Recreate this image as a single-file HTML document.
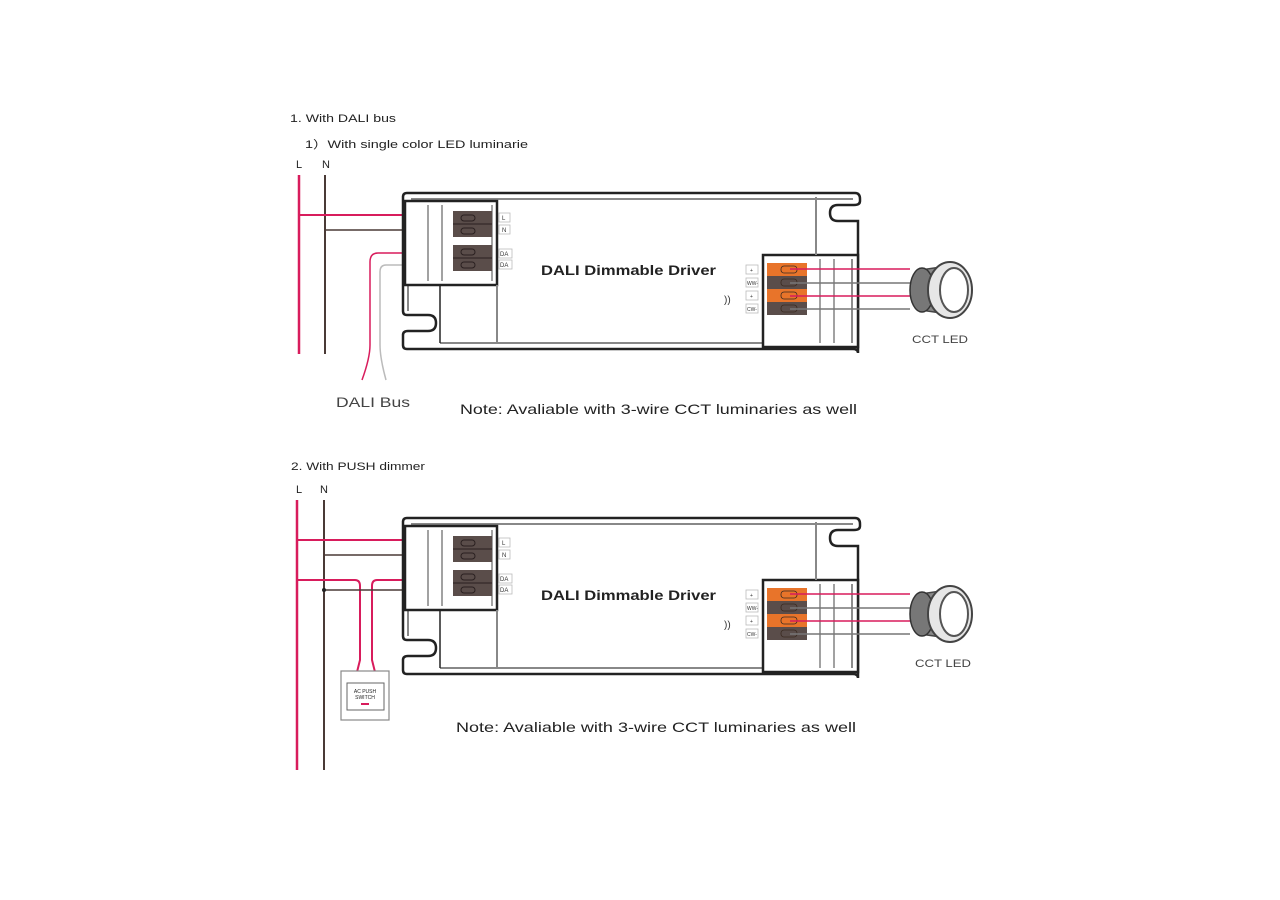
<!DOCTYPE html>
<html><head><meta charset="utf-8"><style>
body{margin:0;background:#fff;width:1280px;height:900px;overflow:hidden}
svg{display:block}
text{font-family:"Liberation Sans",Arial,sans-serif}
</style></head><body>
<svg width="1280" height="900" viewBox="0 0 1280 900" xmlns="http://www.w3.org/2000/svg">
<defs>
<g id="drv">
  <path d="M407,0 H855 Q860,0 860,6 V8 Q860,12 854,12 H838 Q830,12 830,20 Q830,28 838,28 H858 V160 Q858,156 853,156 H407 Q403,156 403,152 V142 Q403,138 408,138 H428 Q436,138 436,130 Q436,122 428,122 H407 Q403,122 403,118 V4 Q403,0 407,0 Z" fill="none" stroke="#222" stroke-width="2.5"/>
  <path d="M411,6 H853" stroke="#888" stroke-width="2" fill="none"/>
  <path d="M440,150 H853" stroke="#888" stroke-width="2" fill="none"/>
  <path d="M408,8 V118" stroke="#888" stroke-width="2"/>
  <rect x="405" y="8" width="92" height="84" fill="#fff" stroke="#222" stroke-width="2.5"/>
  <line x1="428" y1="12" x2="428" y2="88" stroke="#444" stroke-width="1"/>
  <line x1="442" y1="12" x2="442" y2="88" stroke="#444" stroke-width="1"/>
  <line x1="492" y1="12" x2="492" y2="88" stroke="#444" stroke-width="1"/>
  <line x1="440" y1="92" x2="440" y2="150" stroke="#222" stroke-width="1.5"/>
  <line x1="497" y1="92" x2="497" y2="150" stroke="#888" stroke-width="2"/>
  <rect x="453" y="18" width="39" height="26" fill="#5a4d4a"/>
  <rect x="453" y="52" width="39" height="26" fill="#5a4d4a"/>
  <g stroke="#2a2020" stroke-width="1" fill="none">
    <rect x="461" y="22" width="14" height="6" rx="3"/><rect x="461" y="35" width="14" height="6" rx="3"/>
    <rect x="461" y="56" width="14" height="6" rx="3"/><rect x="461" y="69" width="14" height="6" rx="3"/>
    <line x1="453" y1="31" x2="492" y2="31"/><line x1="453" y1="65" x2="492" y2="65"/>
  </g>
  <g fill="#fff" stroke="#bbb" stroke-width="0.8">
    <rect x="499" y="20" width="11" height="9"/><rect x="499" y="32" width="11" height="9"/>
    <rect x="499" y="56" width="13" height="9"/><rect x="499" y="67" width="13" height="9"/>
  </g>
  <g font-size="6" fill="#333">
    <text x="502" y="27">L</text><text x="502" y="39">N</text>
    <text x="500" y="63">DA</text><text x="500" y="74">DA</text>
  </g>
  <text x="541" y="82" font-size="14" font-weight="bold" fill="#222" textLength="175" lengthAdjust="spacingAndGlyphs">DALI Dimmable Driver</text>
  <rect x="763" y="62" width="95" height="92" fill="#fff" stroke="#222" stroke-width="2.5"/>
  <line x1="816" y1="62" x2="816" y2="4" stroke="#888" stroke-width="2"/>
  <line x1="820" y1="66" x2="820" y2="150" stroke="#444" stroke-width="1"/>
  <line x1="834" y1="66" x2="834" y2="150" stroke="#444" stroke-width="1"/>
  <line x1="852" y1="66" x2="852" y2="150" stroke="#666" stroke-width="1.5"/>
  <rect x="767" y="70" width="40" height="13" fill="#e8742a"/>
  <rect x="767" y="83" width="40" height="13" fill="#5a4d4a"/>
  <rect x="767" y="96" width="40" height="13" fill="#e8742a"/>
  <rect x="767" y="109" width="40" height="13" fill="#5a4d4a"/>
  <g stroke="#3a2a20" stroke-width="0.8" fill="none">
    <rect x="781" y="73" width="16" height="7" rx="3"/><rect x="781" y="86" width="16" height="7" rx="3"/>
    <rect x="781" y="99" width="16" height="7" rx="3"/><rect x="781" y="112" width="16" height="7" rx="3"/>
  </g>
  <g fill="#fff" stroke="#bbb" stroke-width="0.8">
    <rect x="746" y="72" width="12" height="9"/><rect x="746" y="85" width="12" height="9"/>
    <rect x="746" y="98" width="12" height="9"/><rect x="746" y="111" width="12" height="9"/>
  </g>
  <g font-size="5" fill="#333"><text x="750" y="79">+</text><text x="747" y="92">WW-</text><text x="750" y="105">+</text><text x="747" y="118">CW-</text></g>
  <text x="724" y="110" font-size="10" fill="#333">))</text>
</g>
<g id="led">
  <ellipse cx="948" cy="0" rx="18" ry="27" fill="#ddd" stroke="#555" stroke-width="2"/>
  <path d="M920,-20 Q912,0 920,20 L948,24 L948,-24 Z" fill="#888" stroke="#444" stroke-width="1.5"/>
  <ellipse cx="922" cy="0" rx="12" ry="22" fill="#777" stroke="#333" stroke-width="1.5"/>
  <ellipse cx="950" cy="0" rx="22" ry="28" fill="#e6e6e6" stroke="#444" stroke-width="2"/>
  <ellipse cx="954" cy="0" rx="14" ry="22" fill="#fff" stroke="#555" stroke-width="2"/>
</g>
</defs>

<text x="290" y="122" font-size="11" fill="#222" textLength="106" lengthAdjust="spacingAndGlyphs">1. With DALI bus</text>
<text x="305" y="148" font-size="11" fill="#222" textLength="223" lengthAdjust="spacingAndGlyphs">1）With single color LED luminarie</text>
<text x="296" y="168" font-size="11" fill="#222">L</text><text x="322" y="168" font-size="11" fill="#222">N</text>

<line x1="299" y1="175" x2="299" y2="354" stroke="#d81c5c" stroke-width="2.5"/>
<line x1="325" y1="175" x2="325" y2="354" stroke="#4a3a36" stroke-width="2"/>
<line x1="299" y1="215" x2="460" y2="215" stroke="#d81c5c" stroke-width="2"/>
<line x1="325" y1="230" x2="460" y2="230" stroke="#4a3a36" stroke-width="1.5"/>
<path d="M460,253 H378 Q370,253 370,262 V345 Q370,358 362,380" fill="none" stroke="#d81c5c" stroke-width="1.5"/>
<path d="M460,265 H386 Q380,265 380,272 V345 Q380,358 386,380" fill="none" stroke="#bbb" stroke-width="1.5"/>

<use href="#drv" y="193"/>
<g stroke-width="1.5">
<line x1="790" y1="269" x2="910" y2="269" stroke="#d81c5c"/>
<line x1="790" y1="283" x2="910" y2="283" stroke="#777"/>
<line x1="790" y1="296" x2="910" y2="296" stroke="#d81c5c"/>
<line x1="790" y1="309" x2="910" y2="309" stroke="#777"/>
</g>
<use href="#led" y="290"/>
<text x="912" y="343" font-size="11" fill="#444" textLength="56" lengthAdjust="spacingAndGlyphs">CCT LED</text>
<text x="336" y="407" font-size="14" fill="#444" textLength="74" lengthAdjust="spacingAndGlyphs">DALI Bus</text>
<text x="460" y="414" font-size="14" fill="#222" textLength="397" lengthAdjust="spacingAndGlyphs">Note: Avaliable with 3-wire CCT luminaries as well</text>

<text x="291" y="470" font-size="11" fill="#222" textLength="134" lengthAdjust="spacingAndGlyphs">2. With PUSH dimmer</text>
<text x="296" y="493" font-size="11" fill="#222">L</text><text x="320" y="493" font-size="11" fill="#222">N</text>
<line x1="297" y1="500" x2="297" y2="770" stroke="#d81c5c" stroke-width="2.5"/>
<line x1="324" y1="500" x2="324" y2="770" stroke="#4a3a36" stroke-width="2"/>
<line x1="297" y1="540" x2="460" y2="540" stroke="#d81c5c" stroke-width="2"/>
<line x1="324" y1="555" x2="460" y2="555" stroke="#4a3a36" stroke-width="1.5"/>
<path d="M297,580 H355 Q360,580 360,586 V660 L357,672" fill="none" stroke="#d81c5c" stroke-width="2"/>
<path d="M460,578 H436 Q432,580 428,580 H377 Q372,580 372,586 V660 L375,672" fill="none" stroke="#d81c5c" stroke-width="2"/>
<line x1="324" y1="590" x2="460" y2="590" stroke="#4a3a36" stroke-width="1.5"/>
<circle cx="324" cy="590" r="2" fill="#222"/>
<rect x="341" y="671" width="48" height="49" fill="#fff" stroke="#888" stroke-width="1.2"/>
<rect x="347" y="683" width="37" height="27" fill="#fff" stroke="#666" stroke-width="1"/>
<text x="365" y="693" font-size="5" text-anchor="middle" fill="#222">AC PUSH</text>
<text x="365" y="699" font-size="5" text-anchor="middle" fill="#222">SWITCH</text>
<rect x="361" y="703" width="8" height="2" fill="#d81c5c"/>

<use href="#drv" y="518"/>
<g stroke-width="1.5">
<line x1="790" y1="594" x2="910" y2="594" stroke="#d81c5c"/>
<line x1="790" y1="608" x2="910" y2="608" stroke="#777"/>
<line x1="790" y1="621" x2="910" y2="621" stroke="#d81c5c"/>
<line x1="790" y1="634" x2="910" y2="634" stroke="#777"/>
</g>
<use href="#led" y="614"/>
<text x="915" y="667" font-size="11" fill="#444" textLength="56" lengthAdjust="spacingAndGlyphs">CCT LED</text>
<text x="456" y="732" font-size="14" fill="#222" textLength="400" lengthAdjust="spacingAndGlyphs">Note: Avaliable with 3-wire CCT luminaries as well</text>
</svg>
</body></html>
